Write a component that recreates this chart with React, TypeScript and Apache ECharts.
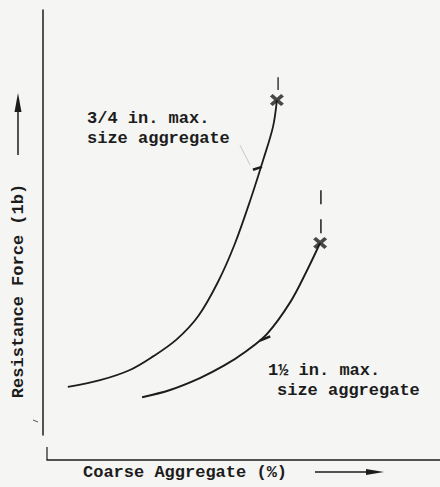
import React, { useEffect, useRef } from "react";
import * as echarts from "echarts";

// Coarse aggregate (%) vs resistance force (arbitrary units, axes unlabeled)
const curveThreeQuarterX = [5.3, 13.5, 21.1, 27.0, 33.0, 38.5, 43.5, 47.8, 52.0, 55.0, 57.5, 58.5];
const curveThreeQuarterY = [11.3, 12.9, 15.3, 18.5, 22.5, 28.0, 36.0, 45.0, 56.0, 64.7, 72.5, 78.8];
const curveOneHalfX = [24.2, 31.3, 38.9, 45.0, 50.5, 56.0, 61.8, 66.2, 69.5];
const curveOneHalfY = [8.9, 10.6, 13.4, 16.3, 19.6, 23.8, 31.1, 38.8, 45.2];
const limitThreeQuarter = [[58.8, 81.2], [58.8, 84.2]];
const limitOneHalf = [[69.7, 47.5], [69.7, 58.4]];
const tickThreeQuarter = [[52.4, 62.4], [54.7, 63.1]];
const tickOneHalf = [[54.2, 22.2], [56.8, 23.2]];
const leaderThreeQuarter = [[49.1, 68.2], [51.7, 63.5]];
const labelThreeQuarter = ["3/4 in. max.", "size aggregate"];
const labelOneHalf = ["1½ in. max.", "size aggregate"];
const xTitle = "Coarse Aggregate (%)";
const yTitle = "Resistance Force (1b)";

const INK = "#1c1c1c";
const FONT = "'Liberation Mono', 'DejaVu Sans Mono', monospace";
const CROSS =
  "path://M2,0 L5,3 L8,0 L10,2 L7,5 L10,8 L8,10 L5,7 L2,10 L0,8 L3,5 L0,2 Z";

const zip = (xs: number[], ys: number[]) => xs.map((x, i) => [x, ys[i]]);

export default function App() {
  const ref = useRef<HTMLDivElement>(null);
  useEffect(() => {
    if (!ref.current) return;
    const chart = echarts.init(ref.current, undefined, { renderer: "svg" });
    const t1 = zip(curveThreeQuarterX, curveThreeQuarterY);
    const t2 = zip(curveOneHalfX, curveOneHalfY);
    const textStyle = (x: number, y: number, text: string) => ({
      type: "text",
      x,
      y,
      style: {
        text,
        fill: INK,
        font: `bold 17px ${FONT}`,
        textAlign: "left",
        textVerticalAlign: "middle",
      },
    });
    chart.setOption({
      animation: false,
      backgroundColor: "#f5f5f3",
      grid: { left: 47, right: 0, top: 10, bottom: 52 },
      xAxis: {
        type: "value",
        min: 0,
        max: 100,
        offset: 25,
        axisLine: { show: true, onZero: false, lineStyle: { color: INK, width: 1.5 } },
        axisTick: { show: false },
        axisLabel: { show: false },
        splitLine: { show: false },
      },
      yAxis: {
        type: "value",
        min: 0,
        max: 100,
        offset: 4,
        axisLine: { show: true, onZero: false, lineStyle: { color: INK, width: 1.5 } },
        axisTick: { show: false },
        axisLabel: { show: false },
        splitLine: { show: false },
      },
      series: [
        {
          type: "line",
          data: t1,
          smooth: 0.35,
          symbol: "none",
          lineStyle: { color: INK, width: 1.8 },
        },
        {
          type: "line",
          data: t2,
          smooth: 0.35,
          symbol: "none",
          lineStyle: { color: INK, width: 2 },
        },
        {
          type: "scatter",
          data: [t1[t1.length - 1], t2[t2.length - 1]],
          symbol: CROSS,
          symbolSize: [14, 12],
          itemStyle: { color: INK },
        },
        {
          type: "line",
          data: limitThreeQuarter,
          symbol: "none",
          lineStyle: { color: INK, width: 1.3 },
        },
        {
          type: "line",
          data: limitOneHalf,
          symbol: "none",
          lineStyle: { color: INK, width: 1.5, type: [14, 15] },
        },
        {
          type: "line",
          data: tickThreeQuarter,
          symbol: "none",
          lineStyle: { color: INK, width: 2.5 },
        },
        {
          type: "line",
          data: tickOneHalf,
          symbol: "none",
          lineStyle: { color: INK, width: 2.5 },
        },
        {
          type: "line",
          data: leaderThreeQuarter,
          symbol: "none",
          lineStyle: { color: "#c8c8c8", width: 1 },
        },
      ],
      graphic: [
        textStyle(87, 118, labelThreeQuarter[0]),
        textStyle(87, 138, labelThreeQuarter[1]),
        textStyle(268, 370, labelOneHalf[0]),
        textStyle(277, 390, labelOneHalf[1]),
        textStyle(83, 472, xTitle),
        {
          type: "text",
          x: 18,
          y: 291,
          rotation: Math.PI / 2,
          style: {
            text: yTitle,
            fill: INK,
            font: `bold 17px ${FONT}`,
            textAlign: "center",
            textVerticalAlign: "middle",
          },
        },
        {
          type: "line",
          shape: { x1: 315, y1: 472, x2: 372, y2: 472 },
          style: { stroke: INK, lineWidth: 1.5 },
        },
        {
          type: "polygon",
          shape: { points: [[384, 472], [366, 469], [366, 475]] },
          style: { fill: INK },
        },
        {
          type: "line",
          shape: { x1: 18, y1: 155, x2: 18, y2: 108 },
          style: { stroke: INK, lineWidth: 1.5 },
        },
        {
          type: "polygon",
          shape: { points: [[18, 93], [14.5, 112], [21.5, 112]] },
          style: { fill: INK },
        },
        {
          type: "line",
          shape: { x1: 47, y1: 447, x2: 47, y2: 460 },
          style: { stroke: INK, lineWidth: 1.2 },
        },
        {
          type: "line",
          shape: { x1: 33, y1: 420, x2: 38, y2: 422 },
          style: { stroke: "#555", lineWidth: 1 },
        },
      ],
    });
    return () => chart.dispose();
  }, []);
  return (
    <div
      ref={ref}
      style={{ position: "absolute", left: 0, top: 0, width: 440, height: 487 }}
    />
  );
}
